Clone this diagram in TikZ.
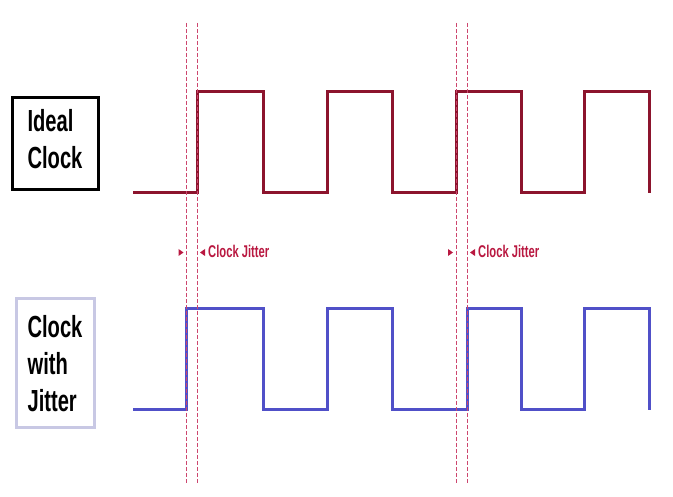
\documentclass[tikz,border=0pt]{standalone}
\usepackage{fontspec}
\setmainfont{Liberation Sans}[FakeStretch=0.66]
\usepackage{tikz}
\usetikzlibrary{positioning}
\usepackage{xcolor}
\definecolor{idealred}{RGB}{140,20,45}
\definecolor{jitterblue}{RGB}{80,80,200}
\definecolor{markpink}{RGB}{205,70,110}
\definecolor{jittertext}{RGB}{185,25,65}
\definecolor{boxlilac}{RGB}{200,200,228}

\begin{document}
\begin{tikzpicture}[x=1pt, y=-1pt,
  labelbox/.style={rectangle, line width=3pt, align=left, inner sep=0pt,
    font=\bfseries\fontsize{30.5}{37}\selectfont},
  jitterlabel/.style={anchor=base west, inner sep=0pt, text=jittertext,
    font=\bfseries\fontsize{17}{20}\selectfont},
  guide/.style={markpink, line width=1pt, dash pattern=on 4pt off 2pt}]
\useasboundingbox (0,0) rectangle (673,497);

% 标签框
\node[labelbox, draw=black, minimum width=86pt, minimum height=92pt, text depth=10pt] (ideal) at (55,144) {Ideal\\Clock};
\node[labelbox, draw=boxlilac, minimum width=78pt, minimum height=129pt] (jitter) at (55,363.5) {Clock\\with\\Jitter};

% 理想时钟
\draw[idealred, line width=3pt, line join=miter]
  (133,193) -- (197,193) -- (197,92) -- (263,92) -- (263,193) -- (327,193) -- (327,92)
  -- (392,92) -- (392,193) -- (456,193) -- (456,92) -- (521,92) -- (521,193)
  -- (584,193) -- (584,92) -- (649,92) -- (649,193);

% 带抖动的时钟
\draw[jitterblue, line width=3pt, line join=miter]
  (133,410) -- (186,410) -- (186,309) -- (263,309) -- (263,410) -- (327,410) -- (327,309)
  -- (392,309) -- (392,410) -- (467,410) -- (467,309) -- (521,309) -- (521,410)
  -- (584,410) -- (584,309) -- (649,309) -- (649,410);

% 虚线参考线
\draw[guide] (186,23) -- (186,483);
\draw[guide] (197,23) -- (197,483);
\draw[guide] (456,23) -- (456,483);
\draw[guide] (467,23) -- (467,483);

% 抖动标记
\fill[jittertext] (178.5,249) -- (183.5,252.5) -- (178.5,256) -- cycle;
\fill[jittertext] (205,249) -- (200,252.5) -- (205,256) -- cycle;
\node[jitterlabel] (jit1) at (208,258) {Clock Jitter};

\fill[jittertext] (448,249) -- (453,252.5) -- (448,256) -- cycle;
\fill[jittertext] (475,249) -- (470,252.5) -- (475,256) -- cycle;
\node[jitterlabel] (jit2) at (478,258) {Clock Jitter};
\end{tikzpicture}
\end{document}
